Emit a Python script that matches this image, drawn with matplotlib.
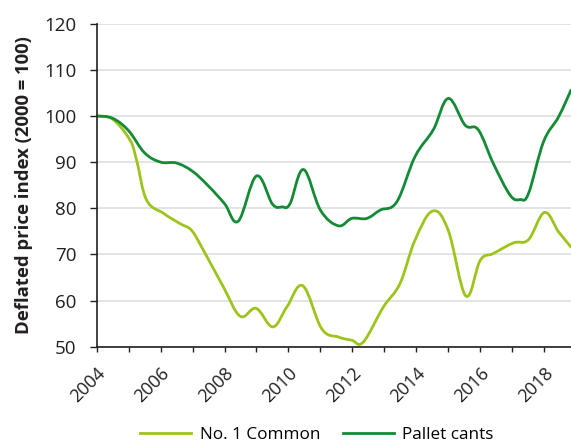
import numpy as np
import matplotlib
matplotlib.use("Agg")
import matplotlib.pyplot as plt
from matplotlib.path import Path
from matplotlib.patches import PathPatch
from matplotlib.lines import Line2D

plt.rcParams['font.family'] = ['Open Sans', 'DejaVu Sans']

# (year, deflated price index)
common_x = [2004.0, 2004.5, 2005.04, 2005.25, 2005.56, 2006.09, 2006.6, 2006.97,
            2007.34, 2007.96, 2008.49, 2008.99, 2009.51, 2009.95, 2010.45, 2011.04,
            2011.56, 2011.98, 2012.34, 2012.97, 2013.49, 2013.96, 2014.51, 2015.0,
            2015.55, 2016.0, 2016.41, 2017.04, 2017.51, 2018.01, 2018.45, 2018.84]
common_y = [100.0, 99.3, 94.8, 90.4, 81.8, 78.9, 76.7, 75.2,
            70.9, 63.0, 56.6, 58.3, 54.3, 58.6, 63.2, 53.9,
            52.1, 51.4, 51.0, 58.6, 63.7, 73.1, 79.4, 75.2,
            61.0, 68.7, 70.2, 72.5, 73.2, 79.1, 74.9, 71.6]

cants_x = [2004.0, 2004.5, 2005.0, 2005.5, 2006.0, 2006.5, 2007.0, 2007.5,
           2008.0, 2008.43, 2009.0, 2009.5, 2009.8, 2010.05, 2010.47, 2011.0,
           2011.56, 2011.98, 2012.45, 2012.87, 2013.39, 2013.96, 2014.53, 2015.0,
           2015.53, 2015.94, 2016.41, 2016.94, 2017.25, 2017.51, 2017.98, 2018.45, 2018.84]
cants_y = [100.0, 99.5, 96.8, 92.0, 90.0, 89.8, 88.0, 84.8,
           81.0, 77.2, 87.0, 80.9, 80.3, 81.0, 88.4, 79.6,
           76.2, 77.8, 77.8, 79.6, 81.4, 91.2, 97.0, 103.8,
           98.0, 97.0, 89.7, 82.8, 81.9, 83.2, 94.4, 99.8, 105.6]

series = [('No. 1 Common', common_x, common_y, '#9cc41b'),
          ('Pallet cants', cants_x, cants_y, '#138a36')]


def smooth_path(xs, ys, t=0.18):
    # catmull-rom style bezier through the read points (drawing style only)
    p = np.column_stack([xs, ys])
    verts = [p[0]]
    codes = [Path.MOVETO]
    for i in range(len(p) - 1):
        p0 = p[i - 1] if i > 0 else p[i]
        p3 = p[i + 2] if i + 2 < len(p) else p[i + 1]
        c1 = p[i] + (p[i + 1] - p0) * t
        c2 = p[i + 1] - (p3 - p[i]) * t
        verts += [c1, c2, p[i + 1]]
        codes += [Path.CURVE4] * 3
    return Path(verts, codes)


fig = plt.figure(figsize=(5.71, 4.43), dpi=100)
ax = fig.add_axes([0.1693, 0.2174, 0.8307, 0.7291])

handles = []
for name, xs, ys, col in series:
    ax.add_patch(PathPatch(smooth_path(xs, ys), fc='none', ec=col, lw=2.0,
                           capstyle='round', joinstyle='round'))
    handles.append(Line2D([], [], color=col, lw=2.0, label=name))

ax.set_xlim(2004, 2018.84)
ax.set_ylim(50, 120)
ax.set_yticks(np.arange(50, 121, 10))
ax.set_xticks(np.arange(2004, 2019, 1))
ax.set_xticklabels([str(y) if y % 2 == 0 else '' for y in range(2004, 2019)],
                   rotation=45, ha='right', rotation_mode='anchor')
ax.tick_params(axis='y', length=5, width=1, labelsize=13.5, pad=9.4, colors='#231f20')
ax.tick_params(axis='x', length=3.6, width=1, labelsize=13, pad=9, colors='#231f20')
ax.grid(axis='y', color='#e4e4e4', lw=1.4)
ax.set_axisbelow(True)
for s in ['top', 'right']:
    ax.spines[s].set_visible(False)
for s in ['left', 'bottom']:
    ax.spines[s].set_color('#231f20')
    ax.spines[s].set_linewidth(1.2)

ax.set_ylabel('Deflated price index (2000 = 100)', fontsize=13.3, fontweight='bold',
              color='#231f20', labelpad=8)

fig.legend(handles=handles, loc='center', bbox_to_anchor=(0.555, 0.018), ncol=2,
           frameon=False, fontsize=12.3, handlelength=3.0, columnspacing=1.3,
           handletextpad=0.5, borderpad=0)

fig.savefig('out.png', dpi=100)
